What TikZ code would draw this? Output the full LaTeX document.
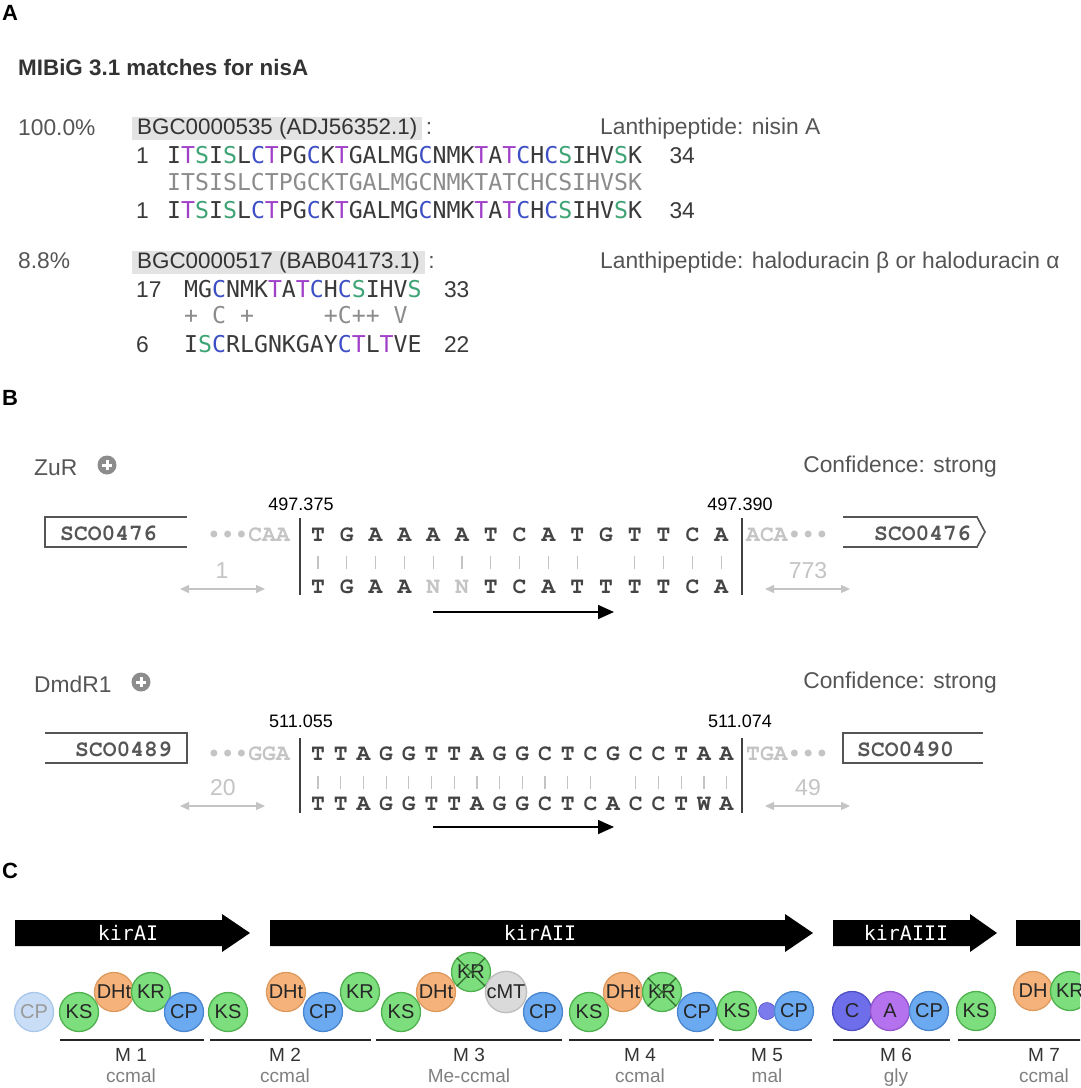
\documentclass[tikz,border=0pt]{standalone}
\usepackage[T1]{fontenc}
\usepackage{fontspec}
\setmainfont{Liberation Sans}
\newfontfamily\menlo{DejaVu Sans Mono}
\newcommand\courier{\fontencoding{T1}\fontfamily{pcr}\selectfont}
\newcommand\fsz[1]{\fontsize{#1}{#1}\selectfont}
\usetikzlibrary{positioning, arrows.meta}

\definecolor{txtgray}{HTML}{555555}
\definecolor{titlegray}{HTML}{333333}
\definecolor{seqdark}{HTML}{3A3A3A}
\definecolor{seqlight}{HTML}{8C8C8C}
\definecolor{resT}{HTML}{A040C8}
\definecolor{resS}{HTML}{3FA475}
\definecolor{resC}{HTML}{3D4FC4}
\definecolor{boxgray}{HTML}{E3E3E3}
\definecolor{faint}{HTML}{C4C4C4}
\definecolor{dnagray}{HTML}{444444}
\definecolor{genegray}{HTML}{555555}
\definecolor{ksfill}{HTML}{7DDE7D}
\definecolor{ksdraw}{HTML}{4FB04F}
\definecolor{dhfill}{HTML}{F5B27B}
\definecolor{dhdraw}{HTML}{DE9A5E}
\definecolor{cpfill}{HTML}{6BAAF0}
\definecolor{cpdraw}{HTML}{4A86CF}
\definecolor{cpfade}{HTML}{C9DEF6}
\definecolor{cpfadedraw}{HTML}{A9C7EA}
\definecolor{mtfill}{HTML}{DADADA}
\definecolor{mtdraw}{HTML}{BDBDBD}
\definecolor{cfill}{HTML}{6E6EEA}
\definecolor{cdraw}{HTML}{5050C4}
\definecolor{afill}{HTML}{B472EE}
\definecolor{adraw}{HTML}{9454CC}
\definecolor{dotfill}{HTML}{7B7BEE}
\definecolor{crossgreen}{HTML}{2F6E2F}

% coloured residues
\newcommand\resT{\textcolor{resT}{T}}
\newcommand\resS{\textcolor{resS}{S}}
\newcommand\resC{\textcolor{resC}{C}}

\begin{document}
\begin{tikzpicture}[
    x=1pt, y=-1pt,
    node distance=6pt,
    panel label/.style={font=\fsz{22}\bfseries, text=black, inner sep=0pt},
    plain text/.style={font=\fsz{22.8}, text=txtgray, inner sep=0pt, anchor=base west},
    seq text/.style={font=\menlo\fsz{23.2}, text=seqdark, inner sep=0pt, anchor=base west},
    bgc box/.style={font=\fsz{22.4}, text=titlegray, fill=boxgray, inner xsep=5pt, inner ysep=2pt,
                    text height=15pt, text depth=4pt, anchor=base west},
    pos label/.style={font=\fsz{18}, text=black, inner sep=0pt, anchor=base},
    gene name/.style={font=\courier\bfseries\fsz{23}, text=genegray, inner sep=0pt},
    gene box/.style={draw=genegray, line width=1.6pt},
    flank/.style={font=\courier\bfseries\fsz{23}, text=faint, inner sep=0pt},
    dna/.style={font=\courier\bfseries\fsz{23}, text=dnagray, inner sep=0pt, anchor=base},
    dna faint/.style={dna, text=faint},
    match bar/.style={draw=faint, line width=1.2pt},
    site bar/.style={draw=black!75, line width=1.6pt},
    gap arrow/.style={{Triangle[length=9pt,width=8pt]}-{Triangle[length=9pt,width=8pt]}, draw=faint, line width=1.2pt},
    gap label/.style={font=\fsz{23}, text=faint, inner sep=0pt, anchor=base},
    motif arrow/.style={-{Triangle[length=16pt,width=14pt]}, draw=black, line width=1.6pt},
    plus btn/.style={circle, fill=black!45, minimum size=19pt, inner sep=0pt},
    plus bar/.style={draw=white, line width=3pt},
    gene arrow/.style={fill=black},
    gene label/.style={font=\menlo\fsz{20}, text=white, inner sep=0pt},
    pks dom/.style={circle, line width=1.3pt, minimum size=39pt, inner sep=0pt, font=\fsz{20}, text=black!85},
    ksdom/.style={pks dom, fill=ksfill, draw=ksdraw},
    krdom/.style={pks dom, fill=ksfill, draw=ksdraw},
    dhdom/.style={pks dom, fill=dhfill, draw=dhdraw},
    cpdom/.style={pks dom, fill=cpfill, draw=cpdraw},
    cpfaded/.style={pks dom, fill=cpfade, draw=cpfadedraw, text=black!40},
    mtdom/.style={pks dom, fill=mtfill, draw=mtdraw},
    cdom/.style={pks dom, fill=cfill, draw=cdraw},
    adom/.style={pks dom, fill=afill, draw=adraw},
    linker dot/.style={circle, fill=dotfill, draw=cdraw, line width=0.6pt, minimum size=17pt, inner sep=0pt},
    crossout/.style={draw=crossgreen, line width=1.3pt},
    mod line/.style={draw=black!85, line width=2.8pt},
    mod name/.style={font=\fsz{19}, text=titlegray, inner sep=0pt, anchor=base},
    mod type/.style={font=\fsz{19}, text=black!50, inner sep=0pt, anchor=base}
]
    \useasboundingbox (0,0) rectangle (1080,1088);
    \fill[white] (0,0) rectangle (1080,1088);
    \clip (0,0) rectangle (1080,1088);

    % ---------------- Panel A ----------------
    \node[panel label] (labA) at (10,13) {A};
    \node[plain text, font=\fsz{22.4}\bfseries, text=titlegray] (title) at (18,75) {MIBiG 3.1 matches for nisA};

    % hit 1
    \node[plain text] (pct1) at (18,135) {100.0\%};
    \node[bgc box] (bgc1) at (132,134) {BGC0000535 (ADJ56352.1)};
    \node[plain text, base right=3pt of bgc1] (colon1) {:};
    \node[plain text] (class1) at (600,134) {Lanthipeptide: nisin A};
    \node[plain text, text=seqdark] (q1start) at (136,163) {1};
    \node[seq text] (q1) at (167,163) {I\resT\resS I\resS L\resC\resT PG\resC K\resT GALMG\resC NMK\resT A\resT\resC H\resC\resS IHV\resS K};
    \node[plain text, text=seqdark, base right=27pt of q1] (q1end) {34};
    \node[seq text, text=seqlight] (mid1) at (167,190) {ITSISLCTPGCKTGALMGCNMKTATCHCSIHVSK};
    \node[plain text, text=seqdark] (h1start) at (136,218) {1};
    \node[seq text] (h1) at (167,218) {I\resT\resS I\resS L\resC\resT PG\resC K\resT GALMG\resC NMK\resT A\resT\resC H\resC\resS IHV\resS K};
    \node[plain text, text=seqdark, base right=27pt of h1] (h1end) {34};

    % hit 2
    \node[plain text] (pct2) at (18,268) {8.8\%};
    \node[bgc box] (bgc2) at (132,268) {BGC0000517 (BAB04173.1)};
    \node[plain text, base right=3pt of bgc2] (colon2) {:};
    \node[plain text] (class2) at (600,268) {Lanthipeptide: haloduracin β or haloduracin α};
    \node[plain text, text=seqdark] (q2start) at (136,297) {17};
    \node[seq text] (q2) at (184,297) {MG\resC NMK\resT A\resT\resC H\resC\resS IHV\resS};
    \node[plain text, text=seqdark, base right=22pt of q2] (q2end) {33};
    \node[seq text, text=seqlight] (mid2) at (184,323) {+\ C\ +\ \ \ \ \ +C++\ V};
    \node[plain text, text=seqdark] (h2start) at (136,352) {6};
    \node[seq text] (h2) at (184,352) {I\resS\resC RLGNKGAY\resC\resT L\resT VE};
    \node[plain text, text=seqdark, base right=22pt of h2] (h2end) {22};

    % ---------------- Panel B ----------------
    \node[panel label] (labB) at (10,398) {B};

    % ZuR site
    \node[plain text] (zur) at (34,475) {ZuR};
    \node[plus btn] (zurplus) at (107,465) {};
    \draw[plus bar] ([xshift=-5pt]zurplus.center) -- ([xshift=5pt]zurplus.center)
                    ([yshift=-5pt]zurplus.center) -- ([yshift=5pt]zurplus.center);
    \node[plain text, anchor=base east] (zurconf) at (997,472) {Confidence: strong};
    \node[pos label] (zurfrom) at (301,510) {497.375};
    \node[pos label] (zurto) at (740,510) {497.390};

    \draw[gene box] (187,517) -- (45,517) -- (45,547) -- (187,547);
    \node[gene name, anchor=base west] (zurgene1) at (60,540) {SCO0476};
    \draw[gene box] (843,517) -- (977,517) -- (985,532) -- (977,547) -- (843,547);
    \node[gene name, anchor=base east] (zurgene2) at (971,540) {SCO0476};
    \node[flank, anchor=base east] (zurleft) at (290,541) {\textbullet\textbullet\textbullet CAA};
    \node[flank, anchor=base west] (zurright) at (746,541) {ACA\textbullet\textbullet\textbullet};

    \coordinate (zurbar1a) at (300,518);
    \coordinate (zurbar1b) at (300,595);
    \coordinate (zurbar2a) at (742,518);
    \coordinate (zurbar2b) at (742,595);
    \draw[site bar] (zurbar1a) -- (zurbar1b);
    \draw[site bar] (zurbar2a) -- (zurbar2b);

    \foreach \b [count=\i from 0] in {T,G,A,A,A,A,T,C,A,T,G,T,T,C,A}
        \node[dna] (zt\i) at (318+28.8*\i,541) {\b};
    \foreach \b/\s [count=\i from 0] in {T/dna,G/dna,A/dna,A/dna,N/dna faint,N/dna faint,T/dna,C/dna,
                                          A/dna,T/dna,T/dna,T/dna,T/dna,C/dna,A/dna}
        \node[\s] (zb\i) at (318+28.8*\i,593) {\b};
    \foreach \i in {0,...,9,11,12,13,14}
        \draw[match bar] ([yshift=-15pt]zt\i.base) -- ([yshift=24pt]zb\i.base);

    \coordinate (zurgap1a) at (180,589);
    \coordinate (zurgap1b) at (265,589);
    \draw[gap arrow] (zurgap1a) -- (zurgap1b);
    \node[gap label] (zurgap1) at (222,578) {1};
    \coordinate (zurgap2a) at (765,589);
    \coordinate (zurgap2b) at (850,589);
    \draw[gap arrow] (zurgap2a) -- (zurgap2b);
    \node[gap label] (zurgap2) at (808,578) {773};

    \coordinate (zurarrA) at (433,612);
    \coordinate (zurarrB) at (614,612);
    \draw[motif arrow] (zurarrA) -- (zurarrB);

    % DmdR1 site
    \node[plain text] (dmd) at (34,692) {DmdR1};
    \node[plus btn] (dmdplus) at (141,682) {};
    \draw[plus bar] ([xshift=-5pt]dmdplus.center) -- ([xshift=5pt]dmdplus.center)
                    ([yshift=-5pt]dmdplus.center) -- ([yshift=5pt]dmdplus.center);
    \node[plain text, anchor=base east] (dmdconf) at (997,688) {Confidence: strong};
    \node[pos label] (dmdfrom) at (301,727) {511.055};
    \node[pos label] (dmdto) at (740,727) {511.074};

    \draw[gene box] (45,733) -- (187,733) -- (187,763) -- (45,763);
    \node[gene name, anchor=base east] (dmdgene1) at (172,756) {SCO0489};
    \draw[gene box] (983,733) -- (843,733) -- (843,763) -- (983,763);
    \node[gene name, anchor=base west] (dmdgene2) at (857,756) {SCO0490};
    \node[flank, anchor=base east] (dmdleft) at (290,760) {\textbullet\textbullet\textbullet GGA};
    \node[flank, anchor=base west] (dmdright) at (746,760) {TGA\textbullet\textbullet\textbullet};

    \coordinate (dmdbar1a) at (300,738);
    \coordinate (dmdbar1b) at (300,813);
    \coordinate (dmdbar2a) at (742,738);
    \coordinate (dmdbar2b) at (742,813);
    \draw[site bar] (dmdbar1a) -- (dmdbar1b);
    \draw[site bar] (dmdbar2a) -- (dmdbar2b);

    \foreach \b [count=\i from 0] in {T,T,A,G,G,T,T,A,G,G,C,T,C,G,C,C,T,A,A}
        \node[dna] (dt\i) at (318+22.7*\i,760) {\b};
    \foreach \b [count=\i from 0] in {T,T,A,G,G,T,T,A,G,G,C,T,C,A,C,C,T,W,A}
        \node[dna] (db\i) at (318+22.7*\i,810) {\b};
    \foreach \i in {0,...,12,14,15,16,17,18}
        \draw[match bar] ([yshift=-16pt]dt\i.base) -- ([yshift=21pt]db\i.base);

    \coordinate (dmdgap1a) at (180,806);
    \coordinate (dmdgap1b) at (265,806);
    \draw[gap arrow] (dmdgap1a) -- (dmdgap1b);
    \node[gap label] (dmdgap1) at (223,795) {20};
    \coordinate (dmdgap2a) at (765,806);
    \coordinate (dmdgap2b) at (850,806);
    \draw[gap arrow] (dmdgap2a) -- (dmdgap2b);
    \node[gap label] (dmdgap2) at (808,795) {49};

    \coordinate (dmdarrA) at (433,827);
    \coordinate (dmdarrB) at (614,827);
    \draw[motif arrow] (dmdarrA) -- (dmdarrB);

    % ---------------- Panel C ----------------
    \node[panel label] (labC) at (10,871) {C};

    % genes
    \fill[gene arrow] (15,920) -- (222,920) -- (222,914) -- (250,933) -- (222,952) -- (222,946) -- (15,946) -- cycle;
    \node[gene label] (kirAI) at (128,933) {kirAI};
    \fill[gene arrow] (270,920) -- (785,920) -- (785,914) -- (813,933) -- (785,952) -- (785,946) -- (270,946) -- cycle;
    \node[gene label] (kirAII) at (540,933) {kirAII};
    \fill[gene arrow] (833,920) -- (970,920) -- (970,914) -- (997,933) -- (970,952) -- (970,946) -- (833,946) -- cycle;
    \node[gene label] (kirAIII) at (906,933) {kirAIII};
    \fill[gene arrow] (1016,920) rectangle (1090,946);

    % M 1
    \node[cpfaded] (cp0) at (34,1012) {CP};
    \node[ksdom] (ks1) at (79,1012) {KS};
    \node[dhdom] (dh1) at (114,992) {DHt};
    \node[krdom] (kr1) at (151,992) {KR};
    \node[cpdom] (cp1) at (184,1012) {CP};
    % M 2
    \node[ksdom] (ks2) at (228,1012) {KS};
    \node[dhdom] (dh2) at (286,992) {DHt};
    \node[cpdom] (cp2) at (323,1012) {CP};
    \node[krdom] (kr2) at (360,992) {KR};
    % M 3
    \node[ksdom] (ks3) at (401,1012) {KS};
    \node[dhdom] (dh3) at (436,992) {DHt};
    \node[krdom] (kr3) at (471,972) {KR};
    \draw[crossout] (kr3.north west) -- (kr3.south east) (kr3.north east) -- (kr3.south west);
    \node[mtdom] (mt3) at (506,992) {cMT};
    \node[cpdom] (cp3) at (543,1012) {CP};
    % M 4
    \node[ksdom] (ks4) at (589,1012) {KS};
    \node[dhdom] (dh4) at (623,992) {DHt};
    \node[krdom] (kr4) at (662,992) {KR};
    \draw[crossout] (kr4.north west) -- (kr4.south east) (kr4.north east) -- (kr4.south west);
    \node[cpdom] (cp4) at (697,1012) {CP};
    % M 5
    \node[ksdom] (ks5) at (737,1011) {KS};
    \node[linker dot] (dot5) at (767,1011) {};
    \node[cpdom] (cp5) at (794,1011) {CP};
    % M 6
    \node[cdom] (c6) at (852,1011) {C};
    \node[adom] (a6) at (890,1011) {A};
    \node[cpdom] (cp6) at (929,1011) {CP};
    \node[ksdom] (ks7) at (976,1011) {KS};
    % M 7
    \node[dhdom] (dh7) at (1033,991) {DH};
    \node[krdom] (kr7) at (1070,991) {KR};

    % modules
    \draw[mod line] (60,1040) -- (204,1040);
    \draw[mod line] (210,1040) -- (371,1040);
    \draw[mod line] (376,1040) -- (562,1040);
    \draw[mod line] (569,1040) -- (714,1040);
    \draw[mod line] (719,1040) -- (812,1040);
    \draw[mod line] (833,1040) -- (950,1040);
    \draw[mod line] (958,1040) -- (1090,1040);

    \node[mod name] (m1) at (131,1061) {M 1};
    \node[mod type] (t1) at (131,1082) {ccmal};
    \node[mod name] (m2) at (285,1061) {M 2};
    \node[mod type] (t2) at (285,1082) {ccmal};
    \node[mod name] (m3) at (469,1061) {M 3};
    \node[mod type] (t3) at (469,1082) {Me-ccmal};
    \node[mod name] (m4) at (640,1061) {M 4};
    \node[mod type] (t4) at (640,1082) {ccmal};
    \node[mod name] (m5) at (767,1061) {M 5};
    \node[mod type] (t5) at (767,1082) {mal};
    \node[mod name] (m6) at (896,1061) {M 6};
    \node[mod type] (t6) at (896,1082) {gly};
    \node[mod name] (m7) at (1044,1061) {M 7};
    \node[mod type] (t7) at (1044,1082) {ccmal};
\end{tikzpicture}
\end{document}
